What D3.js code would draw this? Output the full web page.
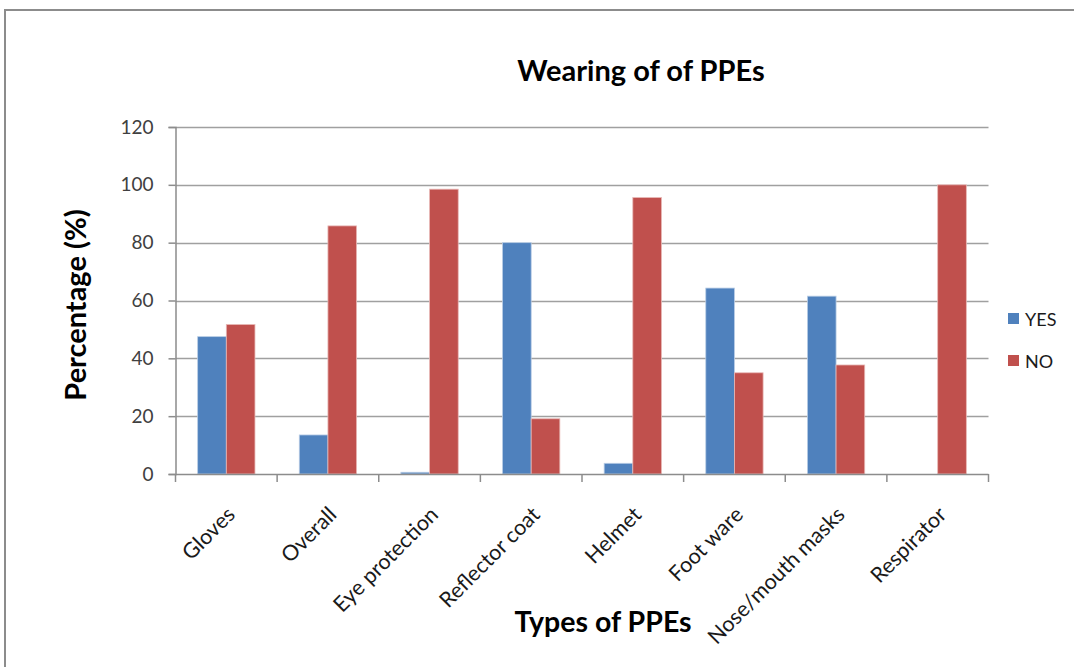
<!DOCTYPE html>
<html><head><meta charset="utf-8">
<script src="https://cdn.jsdelivr.net/npm/d3@7"></script>
<style>body{margin:0;background:#fff}svg{display:block}text{font-family:Lato,"Open Sans",sans-serif}</style>
</head><body>
<svg id="c" width="1074" height="667"></svg>
<script>
const categories = ["Gloves","Overall","Eye protection","Reflector coat","Helmet","Foot ware","Nose/mouth masks","Respirator"];
const seriesNames = ["YES","NO"];
const yesValues = [47.5, 13.5, 0.6, 80, 3.7, 64.3, 61.5, 0];
const noValues  = [51.7, 85.8, 98.5, 19.1, 95.6, 35.0, 37.7, 100];
const yTicks = [0,20,40,60,80,100,120];
const colors = ["#4F81BD","#C0504D"];

const svg = d3.select("#c");
svg.append("path").attr("d","M5,667 L5,10 L1074,10").attr("fill","none").attr("stroke","#8c8c8c").attr("stroke-width",2);

const L=175.5, R=988.5, T=127, B=474;
const x = d3.scaleBand().domain(categories).range([L,R]);
const y = d3.scaleLinear().domain([0,120]).range([B,T]);
const bw = x.bandwidth()*0.282;
const data = categories.map((c,i)=>({c, vals:[yesValues[i], noValues[i]]}));

svg.append("g").selectAll("line").data(yTicks.slice(1)).join("line")
  .attr("x1",L).attr("x2",R).attr("y1",d=>Math.round(y(d))+0.5).attr("y2",d=>Math.round(y(d))+0.5)
  .attr("stroke","#a0a0a0").attr("stroke-width",1.5);

const g = svg.append("g");
data.forEach(d=>{
  d.vals.forEach((v,j)=>{
    const cx = x(d.c)+x.bandwidth()/2;
    g.append("rect").attr("x",cx-bw+j*bw).attr("width",bw)
     .attr("y",y(v)).attr("height",B-y(v)).attr("fill",colors[j])
     .attr("stroke", v>0 ? (j? "#e8b8b6":"#b9cde5") : "none").attr("stroke-width",0.8);
  });
});

const ya = svg.append("g").attr("transform",`translate(${L},0)`)
  .call(d3.axisLeft(y).tickValues(yTicks).tickSize(7).tickPadding(15));
ya.select(".domain").attr("stroke","#8c8c8c").attr("stroke-width",1.5);
ya.selectAll(".tick line").attr("stroke","#8c8c8c").attr("stroke-width",1.5);
ya.selectAll("text").attr("font-size",19).attr("fill","#404040").style("font-family","Lato,'Open Sans',sans-serif");

const xa = svg.append("g").attr("transform",`translate(0,${B})`)
  .call(d3.axisBottom(x).tickSize(0).tickFormat(""));
xa.select(".domain").remove();
svg.append("line").attr("x1",L).attr("x2",R).attr("y1",B+0.5).attr("y2",B+0.5).attr("stroke","#8c8c8c").attr("stroke-width",1.5);
const edges = categories.map(c=>x(c)).concat([R]);
svg.append("g").selectAll("line").data(edges).join("line")
  .attr("x1",d=>d).attr("x2",d=>d).attr("y1",B).attr("y2",B+8).attr("stroke","#8c8c8c").attr("stroke-width",1.5);

svg.append("g").selectAll("text").data(categories).join("text")
  .attr("transform",d=>`translate(${x(d)+x.bandwidth()/2+10},${B+42}) rotate(-45)`)
  .attr("text-anchor","end").attr("font-size",21.5).attr("fill","#1a1a1a").text(d=>d);

svg.append("text").attr("x",641).attr("y",81).attr("text-anchor","middle").attr("font-size",29).attr("font-weight","bold").attr("fill","#000").text("Wearing of of PPEs");
svg.append("text").attr("x",603).attr("y",632).attr("text-anchor","middle").attr("font-size",28.5).attr("font-weight","bold").attr("fill","#000").text("Types of PPEs");
svg.append("text").attr("transform","translate(86,305) rotate(-90)").attr("text-anchor","middle").attr("font-size",29).attr("font-weight","bold").attr("fill","#000").text("Percentage (%)");

const lg = svg.append("g");
seriesNames.forEach((s,i)=>{
  lg.append("rect").attr("x",1008).attr("y",313+i*42).attr("width",11).attr("height",11).attr("fill",colors[i]);
  lg.append("text").attr("x",1025).attr("y",326+i*42).attr("font-size",18).attr("fill","#1a1a1a").text(s);
});
</script>
</body></html>
